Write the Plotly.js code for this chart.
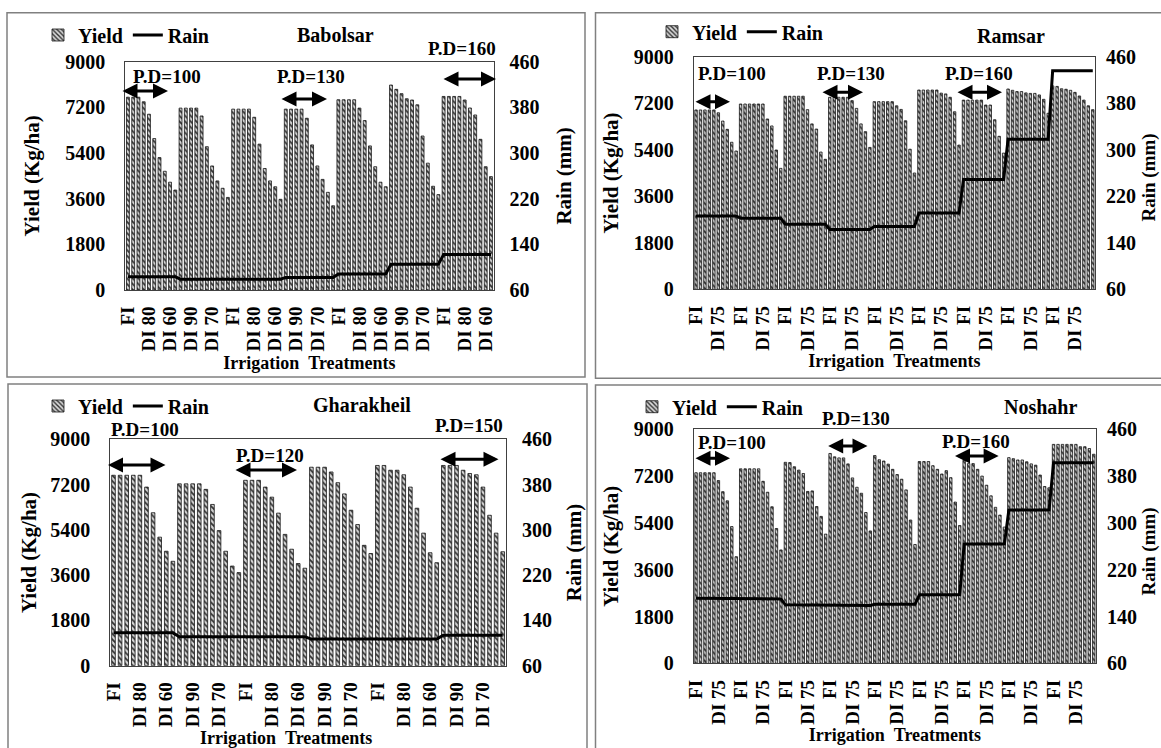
<!DOCTYPE html>
<html><head><meta charset="utf-8">
<script src="https://cdn.plot.ly/plotly-3.0.1.min.js"></script>
<style>html,body{margin:0;padding:0;background:#fff;overflow:hidden}#chart{width:1161px;height:748px}</style>
</head><body><div id="chart"></div>
<script>
// ---------------- data ----------------
const treatments = ['FI','DI 95','DI 90','DI 85','DI 80','DI 75','DI 70','DI 65','DI 60','DI 55'];
const yieldTicks = [0,1800,3600,5400,7200,9000];
const rainTicks = [60,140,220,300,380,460];

const babolsarYield = [
 7600,7600,7600,7420,6930,5970,5220,4680,4250,3940,
 7170,7170,7170,7170,6860,5650,4890,4300,4010,3650,
 7130,7130,7130,7130,6810,5750,4790,4300,4070,3575,
 7130,7130,7130,7130,6770,5720,4890,4360,3850,3320,
 7500,7500,7500,7500,7170,6680,5680,4860,4250,4070,
 8080,7910,7740,7540,7490,7300,6070,5000,4090,3760,
 7630,7630,7630,7630,7490,7175,6900,5940,4860,4470];
const babolsarRain = [
 83,83,83,83,83,83,83,83,83,83,
 79,79,79,79,79,79,79,79,79,79,
 79,79,79,79,79,79,79,79,79,79,
 82,82,82,82,82,82,82,82,82,82,
 88,88,88,88,88,88,88,88,88,88,
 105,105,105,105,105,105,105,105,105,105,
 122,122,122,122,122,122,122,122,122,122];
const babolsarPD = ['P.D=100','P.D=130','P.D=160'];

const ramsarYield = [
 6940,6940,6940,6940,6940,6830,6510,6190,5690,5350,
 7170,7170,7170,7170,7170,7170,6590,6320,5390,4680,
 7470,7470,7470,7470,7470,6950,6400,6200,5310,5030,
 7430,7430,7430,7430,7430,7300,7000,6400,6100,5490,
 7260,7260,7260,7260,7260,7100,6960,6520,5420,4500,
 7710,7710,7710,7710,7710,7590,7560,7430,6870,5580,
 7320,7320,7320,7320,7320,7130,7130,6560,5920,5270,
 7750,7700,7650,7650,7600,7580,7580,7520,7350,6810,
 7870,7850,7760,7740,7700,7620,7480,7320,7100,6950];
const ramsarRain = [
 186,186,186,186,186,186,186,186,186,186,
 182,182,182,182,182,182,182,182,182,182,
 172,172,172,172,172,172,172,172,172,172,
 163,163,163,163,163,163,163,163,163,163,
 168,168,168,168,168,168,168,168,168,168,
 191,191,191,191,191,191,191,191,191,191,
 249,249,249,249,249,249,249,249,249,249,
 318,318,318,318,318,318,318,318,318,318,
 436,436,436,436,436,436,436,436,436,436];
const ramsarPD = ['P.D=100','P.D=130','P.D=160'];

const gharakheilYield = [
 7570,7570,7570,7570,7570,7100,6080,5110,4550,4150,
 7230,7230,7230,7230,7010,6410,5370,4550,3960,3700,
 7370,7370,7370,7100,6700,6065,5220,4630,4060,3875,
 7890,7890,7890,7700,7275,6830,6180,5610,4785,4460,
 7960,7960,7770,7770,7590,7100,6260,5270,4490,4095,
 7960,7960,7960,7770,7640,7590,7100,5980,5270,4530];
const gharakheilRain = [
 118,118,118,118,118,118,118,118,118,118,
 111,111,111,111,111,111,111,111,111,111,
 111,111,111,111,111,111,111,111,111,111,
 107,107,107,107,107,107,107,107,107,107,
 107,107,107,107,107,107,107,107,107,107,
 114,114,114,114,114,114,114,114,114,114];
const gharakheilPD = ['P.D=100','P.D=120','P.D=150'];

const noshahrYield = [
 7330,7330,7330,7330,7330,7030,6600,6250,5260,4100,
 7480,7480,7480,7480,7480,7000,6580,6020,5185,4360,
 7730,7720,7560,7430,7300,6610,6630,6030,5650,4970,
 8070,7940,7900,7900,7670,7130,6770,6540,5800,5090,
 7990,7830,7780,7660,7460,7260,7080,6670,5510,4570,
 7760,7760,7760,7600,7460,7280,7410,7140,6200,5300,
 7810,7680,7680,7460,7200,6850,6440,6000,5700,5240,
 7910,7870,7820,7820,7750,7670,7620,7240,6800,6750,
 8420,8420,8420,8420,8420,8420,8330,8330,8260,8040];
const noshahrRain = [
 171,171,171,171,171,171,171,171,171,171,
 170,170,170,170,170,170,170,170,170,170,
 160,160,160,160,160,160,160,160,160,160,
 159,159,159,159,159,159,159,159,159,159,
 161,161,161,161,161,161,161,161,161,161,
 177,177,177,177,177,177,177,177,177,177,
 264,264,264,264,264,264,264,264,264,264,
 322,322,322,322,322,322,322,322,322,322,
 403,403,403,403,403,403,403,403,403,403];
const noshahrPD = ['P.D=100','P.D=130','P.D=160'];

// ---------------- layout helpers ----------------
const W = 1161, H = 748;
const fx = v => v / W, fy = v => 1 - v / H;
const FONT = '"Liberation Serif","Times New Roman",serif';
const f = (size) => ({family: FONT, size: size, color: '#000', weight: 700});
const X_TITLE = 'Irrigation\u00a0\u00a0Treatments';
const Y_TITLE = 'Yield (Kg/ha)';
const Y2_TITLE = 'Rain (mm)';

// xT / y2T: null = regular axis title; [x, y(, size)] = free-positioned title text
const panels = [
 {name:'Babolsar', yld:babolsarYield, rain:babolsarRain, pd:babolsarPD, step:4,
  plot:[125.3,493.6,61.7,290], box:[7,12.7,585,377], leg:[38,35], ttl:[335,35],
  pdText:[[167,77],[311,77],[462,48]], pdArrow:[[121,168,91],[280,327,99],[442,496,79]],
  xStand:5, yStand:19, y2Stand:17, y2Lab:15, xT:null, y2T:null},
 {name:'Ramsar', yld:ramsarYield, rain:ramsarRain, pd:ramsarPD, step:5,
  plot:[693.8,1095,56.7,289.3], box:[595.5,12.7,1175,378.3], leg:[652,31.7], ttl:[1011,36],
  pdText:[[732,74],[851,74],[979,74]], pdArrow:[[694,730,101.7],[821,863,92.3],[956,1002,92.3]],
  xStand:2, yStand:9, y2Stand:7, y2Lab:10, xT:null, y2T:[1148.5,178,19]},
 {name:'Gharakheil', yld:gharakheilYield, rain:gharakheilRain, pd:gharakheilPD, step:4,
  plot:[110.2,506,439.3,665.7], box:[8,384,587,760], leg:[38,406], ttl:[362,405],
  pdText:[[145,429.3],[270,455],[469,425]], pdArrow:[[106.5,165.5,465],[234,297,470],[439,498.5,459.3]],
  xStand:5, yStand:7, y2Stand:15, y2Lab:15, xT:[286,738.3], y2T:null},
 {name:'Noshahr', yld:noshahrYield, rain:noshahrRain, pd:noshahrPD, step:5,
  plot:[693.8,1096,429.3,663.3], box:[595.5,385,1175,760], leg:[632,406.7], ttl:[1040,407.3],
  pdText:[[732,442.7],[856,418.3],[976,441.7]], pdArrow:[[694,730,458.3],[826.7,867.5,446],[953.5,998.6,456]],
  xStand:1, yStand:9, y2Stand:7, y2Lab:10, xT:null, y2T:[1148.5,552,19]}
];

const data = [];
const layout = {
  width: W, height: H, margin:{l:0,r:0,t:0,b:0},
  paper_bgcolor:'#fff', plot_bgcolor:'rgba(0,0,0,0)',
  bargap: 0.45, showlegend: true,
  annotations: [], shapes: [], font: f(19)
};

panels.forEach((p, k) => {
  const n = k + 1;
  const xa = n === 1 ? 'x' : 'x' + n;
  const yaN = 2 * n - 1, y2N = 2 * n;
  const ya = yaN === 1 ? 'y' : 'y' + yaN;
  const y2 = 'y' + y2N;
  const legName = n === 1 ? 'legend' : 'legend' + n;
  const idx = p.yld.map((_, i) => i);
  const tv = idx.filter(i => i % p.step === 0);
  const tt = tv.map(i => treatments[i % treatments.length]);

  data.push({type:'bar', name:'Yield', x: idx, y: p.yld, xaxis: xa, yaxis: ya, legend: legName,
    marker:{color:'#d0d0d0', line:{color:'#151515', width:0.8},
      pattern:{shape:'\\', fgcolor:'#333', bgcolor:'#d6d6d6', size:4, solidity:0.45}},
    hoverinfo:'skip'});
  data.push({type:'scatter', mode:'lines', name:'Rain', x: idx, y: p.rain, xaxis: xa, yaxis: y2, legend: legName,
    line:{color:'#000', width:3}, hoverinfo:'skip'});

  layout[xa === 'x' ? 'xaxis' : 'xaxis' + n] = {
    domain:[fx(p.plot[0]), fx(p.plot[1])], anchor: ya, range:[-0.5, p.yld.length - 0.5],
    tickmode:'array', tickvals: tv, ticktext: tt, tickangle: -90, tickfont: f(19),
    ticks:'', ticklabelstandoff: 8, showgrid:false, zeroline:false,
    showline:true, mirror:true, linecolor:'#404040', linewidth:1, automargin:false,
    title: p.xT ? {text:''} : {text: X_TITLE, font: f(18), standoff: p.xStand}
  };
  layout[ya === 'y' ? 'yaxis' : 'yaxis' + yaN] = {
    domain:[fy(p.plot[3]), fy(p.plot[2])], anchor: xa, range:[0, 9000],
    tickmode:'array', tickvals: yieldTicks, tickfont: f(20), ticks:'', ticklabelstandoff: 15,
    showgrid:false, zeroline:false, showline:true, mirror:true, linecolor:'#404040', linewidth:1,
    automargin:false, title:{text: Y_TITLE, font: f(21), standoff: p.yStand}
  };
  layout['yaxis' + y2N] = {
    overlaying: ya, side:'right', anchor: xa, range:[60, 460],
    tickmode:'array', tickvals: rainTicks, tickfont: f(20), ticks:'', ticklabelstandoff: p.y2Lab,
    showgrid:false, zeroline:false, showline:false, automargin:false,
    title: p.y2T ? {text:''} : {text: Y2_TITLE, font: f(21), standoff: p.y2Stand}
  };
  if (p.xT) layout.annotations.push({xref:'paper', yref:'paper', x: fx(p.xT[0]), y: fy(p.xT[1]),
    xanchor:'center', yanchor:'middle', text: X_TITLE, showarrow:false, font: f(18)});
  if (p.y2T) layout.annotations.push({xref:'paper', yref:'paper', x: fx(p.y2T[0]), y: fy(p.y2T[1]),
    xanchor:'center', yanchor:'middle', text: Y2_TITLE, textangle:-90, showarrow:false, font: f(p.y2T[2])});

  layout[legName] = {orientation:'h', x: fx(p.leg[0]), y: fy(p.leg[1]), xanchor:'left', yanchor:'middle',
    font: f(20), bgcolor:'rgba(0,0,0,0)', borderwidth:0, itemwidth:30, traceorder:'normal'};

  layout.shapes.push({type:'rect', xref:'paper', yref:'paper',
    x0: fx(p.box[0]), x1: fx(p.box[2]), y0: fy(p.box[3]), y1: fy(p.box[1]),
    line:{color:'#808080', width:1.5}, fillcolor:'rgba(0,0,0,0)', layer:'below'});

  layout.annotations.push({xref:'paper', yref:'paper', x: fx(p.ttl[0]), y: fy(p.ttl[1]),
    xanchor:'center', yanchor:'middle', text: p.name, showarrow:false, font: f(20)});

  p.pd.forEach((label, j) => {
    layout.annotations.push({xref:'paper', yref:'paper', x: fx(p.pdText[j][0]), y: fy(p.pdText[j][1]),
      xanchor:'center', yanchor:'middle', text: label, showarrow:false, font: f(19)});
    const a = p.pdArrow[j];
    layout.annotations.push({xref:'paper', yref:'paper', x: fx(a[1]), y: fy(a[2]),
      axref:'pixel', ayref:'pixel', ax: -(a[1] - a[0]), ay: 0, text:'', showarrow:true,
      arrowside:'end+start', arrowhead:2, startarrowhead:2, arrowsize:1, startarrowsize:1,
      arrowwidth:3, arrowcolor:'#000', standoff:0, startstandoff:0});
  });
});

Plotly.newPlot('chart', data, layout, {staticPlot:true, displayModeBar:false});
</script></body></html>
